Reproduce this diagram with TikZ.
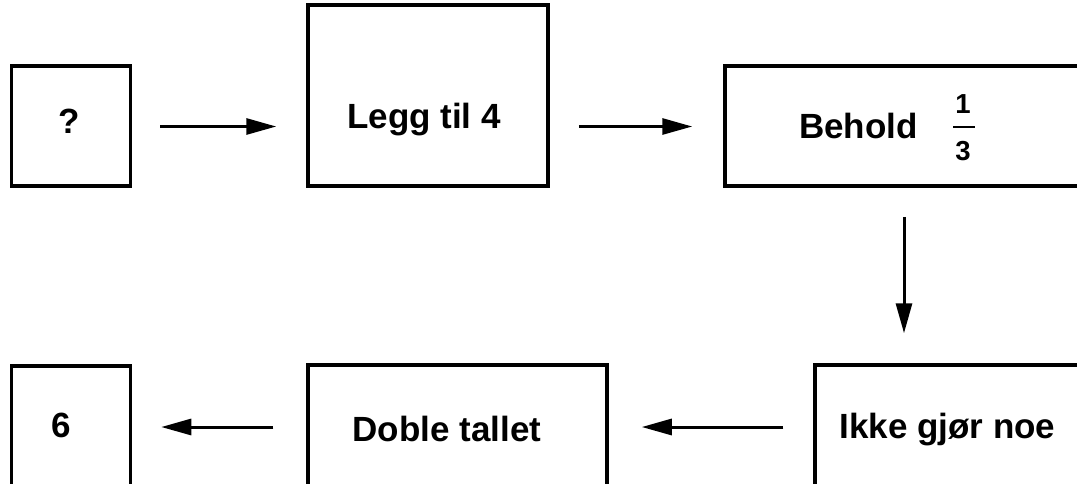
\documentclass[tikz,border=0pt]{standalone}
\usepackage{fontspec}
\setmainfont{Liberation Sans}
\usetikzlibrary{arrows.meta}
\begin{document}
\begin{tikzpicture}[x=1pt,y=-1pt,
  box/.style={draw, line width=3.5pt, inner sep=0pt},
  lbl/.style={font=\fontsize{35}{40}\selectfont\bfseries, anchor=base, inner sep=0pt},
  frac/.style={font=\fontsize{27.5}{30}\selectfont\bfseries, anchor=base, inner sep=0pt},
  arr/.style={line width=3pt, -{Triangle[length=30pt,width=16pt]}}]
\useasboundingbox (0,0) rectangle (1077,483);
\clip (0,0) rectangle (1077,483);
% boxes
\node[box, minimum width=119, minimum height=120] (q) at (71,126) {};
\node[box, minimum width=240, minimum height=181] (legg) at (428,95.5) {};
\node[box, minimum width=400, minimum height=120] (behold) at (925,126) {};
\node[box, minimum width=119, minimum height=160] (six) at (71,446) {};
\node[box, minimum width=299, minimum height=160] (doble) at (457.5,445) {};
\node[box, minimum width=400, minimum height=160] (ikke) at (1015,445) {};
% texts
\node[lbl] (tq) at (69,133) {?};
\node[lbl] (tlegg) at (424,128) {Legg til 4};
\node[lbl] (tbeh) at (858.5,138) {Behold};
\node[frac] (f1) at (963,113) {1};
\node[frac] (f3) at (963,160) {3};
\draw[line width=2.5pt] (953,127) -- (975,127);
\node[lbl] (tsix) at (61,437) {6};
\node[lbl] (tdob) at (447,441) {Doble tallet};
\node[lbl] (tikk) at (947.5,438) {Ikke gjør noe};
% connectors
\coordinate (r1) at (0,126.5);
\coordinate (r2) at (0,427);
\coordinate (c1) at (904,0);
\draw[arr, shorten <=28pt, shorten >=30pt] (q.east |- r1) -- (legg.west |- r1);
\draw[arr, shorten <=29pt, shorten >=31pt] (legg.east |- r1) -- (behold.west |- r1);
\draw[arr, shorten <=29pt, shorten >=30pt] (behold.south -| c1) -- (ikke.north -| c1);
\draw[arr, shorten <=30pt, shorten >=33pt] (ikke.west |- r2) -- (doble.east |- r2);
\draw[arr, shorten <=33pt, shorten >=29pt] (doble.west |- r2) -- (six.east |- r2);
\end{tikzpicture}
\end{document}
